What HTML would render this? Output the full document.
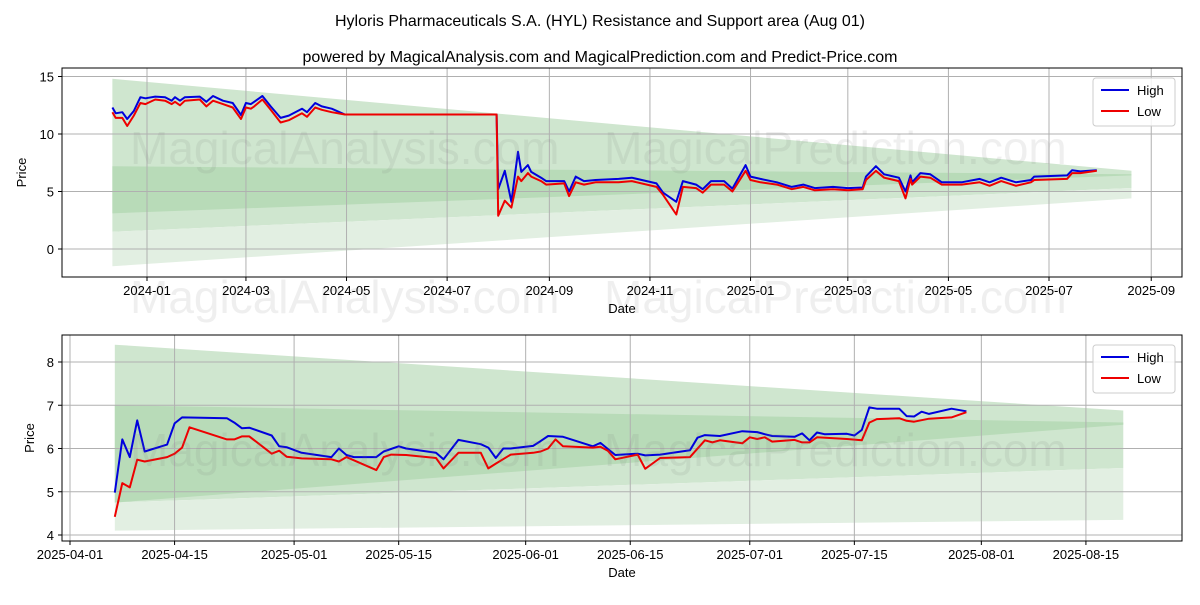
<!DOCTYPE html>
<html><head><meta charset="utf-8">
<style>
body{margin:0;background:#fff;font-family:"Liberation Sans",sans-serif;}
svg text{font-family:"Liberation Sans",sans-serif;}
</style></head>
<body>
<svg id="c" width="1200" height="600" xmlns="http://www.w3.org/2000/svg">
<text x="600" y="26" text-anchor="middle" font-size="16" fill="#000">Hyloris Pharmaceuticals S.A. (HYL) Resistance and Support area (Aug 01)</text>
<text x="600" y="62" text-anchor="middle" font-size="16" fill="#000">powered by MagicalAnalysis.com and MagicalPrediction.com and Predict-Price.com</text>
<text x="130" y="313" font-size="46" fill="rgba(120,120,120,0.12)">MagicalAnalysis.com</text>
<text x="604" y="313" font-size="46" fill="rgba(120,120,120,0.12)">MagicalPrediction.com</text>
</svg>
<script>
// ---------- TOP CHART DATA ----------
const topHighDates=["2023-12-11","2023-12-13","2023-12-17","2023-12-20","2023-12-24","2023-12-28","2023-12-31","2024-01-06","2024-01-12","2024-01-16","2024-01-18","2024-01-21","2024-01-24","2024-02-02","2024-02-06","2024-02-10","2024-02-16","2024-02-22","2024-02-27","2024-03-01","2024-03-04","2024-03-06","2024-03-11","2024-03-16","2024-03-22","2024-03-27","2024-04-04","2024-04-07","2024-04-12","2024-04-16","2024-04-22","2024-04-30","2024-07-31","2024-08-01","2024-08-05","2024-08-09","2024-08-13","2024-08-15","2024-08-19","2024-08-21","2024-08-27","2024-08-30","2024-09-10","2024-09-13","2024-09-17","2024-09-22","2024-09-29","2024-10-13","2024-10-21","2024-11-05","2024-11-09","2024-11-17","2024-11-21","2024-11-29","2024-12-03","2024-12-08","2024-12-16","2024-12-21","2024-12-29","2025-01-01","2025-01-07","2025-01-17","2025-01-26","2025-02-02","2025-02-09","2025-02-20","2025-03-01","2025-03-10","2025-03-12","2025-03-18","2025-03-23","2025-04-01","2025-04-05","2025-04-08","2025-04-09","2025-04-14","2025-04-20","2025-04-27","2025-05-09","2025-05-20","2025-05-26","2025-06-02","2025-06-11","2025-06-20","2025-06-22","2025-07-12","2025-07-15","2025-07-20","2025-07-30"];
const topHighVals=[12.3,11.8,11.9,11.3,12.0,13.2,13.1,13.25,13.2,12.9,13.2,12.9,13.2,13.25,12.8,13.3,12.9,12.7,11.65,12.7,12.6,12.8,13.3,12.4,11.4,11.6,12.2,11.9,12.7,12.4,12.2,11.7,11.7,5.2,6.8,4.1,8.45,6.7,7.3,6.7,6.2,5.9,5.9,5.0,6.3,5.9,6.0,6.1,6.2,5.7,4.9,4.1,5.9,5.6,5.2,5.9,5.9,5.25,7.3,6.3,6.1,5.8,5.4,5.6,5.3,5.4,5.3,5.35,6.3,7.2,6.5,6.2,5.0,6.4,5.8,6.6,6.5,5.8,5.8,6.1,5.8,6.2,5.8,6.0,6.3,6.4,6.85,6.75,6.85];
const topLowVals=[11.9,11.4,11.4,10.7,11.6,12.7,12.6,13.0,12.9,12.6,12.8,12.5,12.9,13.0,12.4,12.9,12.6,12.3,11.3,12.3,12.2,12.4,13.0,12.1,11.0,11.2,11.8,11.5,12.3,12.1,11.9,11.7,11.7,2.9,4.2,3.6,6.3,5.9,6.6,6.3,5.9,5.6,5.7,4.6,5.8,5.6,5.8,5.8,5.9,5.4,4.7,3.0,5.4,5.3,4.9,5.6,5.6,5.0,6.8,6.0,5.8,5.6,5.2,5.4,5.1,5.2,5.1,5.2,6.0,6.8,6.2,5.9,4.4,6.1,5.6,6.3,6.2,5.6,5.6,5.8,5.5,5.9,5.5,5.8,6.0,6.1,6.6,6.6,6.8];
const topBandDates=["2023-12-11","2025-08-20"];
const topOuterTop=[14.8,6.8], topOuterBot=[1.5,5.3];
const topLightTop=[1.5,5.3], topLightBot=[-1.5,4.4];
const topDarkTop=[7.2,6.5], topDarkBot=[3.1,6.4];
const topYTicks=[0,5,10,15];
const topXTicks=["2024-01","2024-03","2024-05","2024-07","2024-09","2024-11","2025-01","2025-03","2025-05","2025-07","2025-09"];

// ---------- BOTTOM CHART DATA ----------
const botHighDates=["2025-04-07","2025-04-08","2025-04-09","2025-04-10","2025-04-11","2025-04-14","2025-04-15","2025-04-16","2025-04-22","2025-04-23","2025-04-24","2025-04-25","2025-04-28","2025-04-29","2025-04-30","2025-05-02","2025-05-06","2025-05-07","2025-05-08","2025-05-09","2025-05-12","2025-05-13","2025-05-15","2025-05-16","2025-05-20","2025-05-21","2025-05-23","2025-05-26","2025-05-27","2025-05-28","2025-05-29","2025-05-30","2025-06-02","2025-06-03","2025-06-04","2025-06-06","2025-06-10","2025-06-11","2025-06-13","2025-06-16","2025-06-17","2025-06-19","2025-06-23","2025-06-24","2025-06-25","2025-06-27","2025-06-30","2025-07-02","2025-07-03","2025-07-04","2025-07-07","2025-07-08","2025-07-09","2025-07-10","2025-07-11","2025-07-14","2025-07-15","2025-07-16","2025-07-17","2025-07-18","2025-07-21","2025-07-22","2025-07-23","2025-07-24","2025-07-25","2025-07-28","2025-07-30"];
const botHighVals=[4.98,6.21,5.8,6.65,5.93,6.09,6.58,6.72,6.7,6.6,6.47,6.48,6.3,6.05,6.03,5.9,5.8,6.0,5.85,5.8,5.8,5.93,6.05,6.0,5.9,5.75,6.2,6.1,6.02,5.78,6.0,6.0,6.06,6.17,6.29,6.27,6.05,6.13,5.85,5.88,5.84,5.86,5.96,6.25,6.31,6.29,6.4,6.38,6.33,6.29,6.27,6.35,6.19,6.37,6.33,6.34,6.3,6.43,6.95,6.92,6.92,6.75,6.74,6.85,6.8,6.92,6.86];
const botLowDates=["2025-04-07","2025-04-08","2025-04-09","2025-04-10","2025-04-11","2025-04-14","2025-04-15","2025-04-16","2025-04-17","2025-04-22","2025-04-23","2025-04-24","2025-04-25","2025-04-28","2025-04-29","2025-04-30","2025-05-02","2025-05-06","2025-05-07","2025-05-08","2025-05-12","2025-05-13","2025-05-14","2025-05-16","2025-05-20","2025-05-21","2025-05-23","2025-05-26","2025-05-27","2025-05-28","2025-05-30","2025-06-02","2025-06-03","2025-06-04","2025-06-05","2025-06-06","2025-06-10","2025-06-11","2025-06-12","2025-06-13","2025-06-16","2025-06-17","2025-06-19","2025-06-23","2025-06-25","2025-06-26","2025-06-27","2025-06-30","2025-07-01","2025-07-02","2025-07-03","2025-07-04","2025-07-07","2025-07-08","2025-07-09","2025-07-10","2025-07-14","2025-07-16","2025-07-17","2025-07-18","2025-07-21","2025-07-22","2025-07-23","2025-07-25","2025-07-28","2025-07-30"];
const botLowVals=[4.42,5.2,5.1,5.74,5.7,5.8,5.88,6.02,6.49,6.21,6.21,6.28,6.28,5.88,5.95,5.81,5.77,5.75,5.7,5.8,5.5,5.8,5.86,5.85,5.78,5.54,5.9,5.9,5.54,5.65,5.86,5.9,5.93,6.0,6.21,6.05,6.02,6.04,5.95,5.75,5.86,5.53,5.78,5.8,6.19,6.14,6.19,6.12,6.26,6.22,6.26,6.16,6.2,6.14,6.14,6.26,6.22,6.19,6.6,6.68,6.7,6.64,6.62,6.69,6.72,6.84];
const botBandDates=["2025-04-07","2025-08-20"];
const botOuterTop=[8.4,6.88], botOuterBot=[4.75,5.55];
const botLightTop=[4.75,5.55], botLightBot=[4.1,4.35];
const botDarkTop=[7.0,6.6], botDarkBot=[4.75,6.55];
const botYTicks=[4,5,6,7,8];
const botXTicks=["2025-04-01","2025-04-15","2025-05-01","2025-05-15","2025-06-01","2025-06-15","2025-07-01","2025-07-15","2025-08-01","2025-08-15"];

const NS="http://www.w3.org/2000/svg";
const svg=document.getElementById('c');
const DAY=86400000;
function dnum(s){const p=s.split('-').map(Number);return Date.UTC(p[0],p[1]-1,p[2]||1)/DAY;}
function mk(tag,attrs,parent){const e=document.createElementNS(NS,tag);for(const k in attrs)e.setAttribute(k,attrs[k]);(parent||svg).appendChild(e);return e;}

function chart(o){
  const g=mk('g',{});
  
  
  const x=d=>o.x0+(dnum(d)-dnum(o.xRef))*o.pxPerDay;
  const y=v=>o.yRefPx-(v-o.yRef)*o.pxPerUnit;
  const clip=mk('clipPath',{id:o.name+'-clip'},g);
  mk('rect',{x:o.L,y:o.T,width:o.W,height:o.H},clip);
  const inner=mk('g',{'clip-path':'url(#'+o.name+'-clip)'},g);
  function band(top,bot,fill,name){
    const d0=o.bandDates[0],d1=o.bandDates[1];
    const p=mk('polygon',{points:`${x(d0)},${y(top[0])} ${x(d1)},${y(top[1])} ${x(d1)},${y(bot[1])} ${x(d0)},${y(bot[0])}`,fill:fill},inner);
    
    
  }
  band(o.outerTop,o.outerBot,'#cfe6cf','resistance-band');
  band(o.lightTop,o.lightBot,'#e2efe2','support-band');
  band(o.darkTop,o.darkBot,'#b8dbb8','core-band');
  o.xTicks.forEach(t=>{const px=x(t);
    const l=mk('line',{x1:px,x2:px,y1:o.T,y2:o.T+o.H,stroke:'#b0b0b0','stroke-width':1},inner);
    
    
    mk('line',{x1:px,x2:px,y1:o.T+o.H,y2:o.T+o.H+4,stroke:'#000'},g);
    const tx=mk('text',{x:px,y:o.T+o.H+18,'text-anchor':'middle','font-size':13},g);tx.textContent=t;
    
    
  });
  o.yTicks.forEach(t=>{const py=y(t);
    const l=mk('line',{x1:o.L,x2:o.L+o.W,y1:py,y2:py,stroke:'#b0b0b0','stroke-width':1},inner);
    
    
    mk('line',{x1:o.L-4,x2:o.L,y1:py,y2:py,stroke:'#000'},g);
    const tx=mk('text',{x:o.L-8,y:py+5,'text-anchor':'end','font-size':13},g);tx.textContent=t;
    
    
  });
  o.wm.forEach(w=>{const t=mk('text',{x:w[0],y:w[1],'font-size':46,fill:'rgba(120,120,120,0.12)'},g);t.textContent=w[2];
    
    });
  function line(dates,vals,color,name){
    const pts=dates.map((d,i)=>x(d).toFixed(1)+','+y(vals[i]).toFixed(1)).join(' ');
    const p=mk('polyline',{points:pts,fill:'none',stroke:color,'stroke-width':2,'stroke-linejoin':'round'},inner);
    
    
  }
  line(o.highDates,o.highVals,'#0000dd','high-line');
  line(o.lowDates,o.lowVals,'#ee0000','low-line');
  const fr=mk('rect',{x:o.L,y:o.T,width:o.W,height:o.H,fill:'none',stroke:'#000','stroke-width':1},g);
  
  
  const xl=mk('text',{x:o.L+o.W/2,y:o.T+o.H+36,'text-anchor':'middle','font-size':13},g);xl.textContent='Date';
  
  
  const yl=mk('text',{x:0,y:0,'text-anchor':'middle','font-size':13,transform:`translate(${o.yLabelX},${o.T+o.H/2}) rotate(-90)`},g);yl.textContent='Price';
  
  
  const lg=mk('g',{},g);
  
  
  const lx=o.L+o.W-89, ly=o.T+10;
  mk('rect',{x:lx,y:ly,width:82,height:48,rx:3,fill:'rgba(255,255,255,0.85)',stroke:'#ccc'},lg);
  [['High','#0000dd'],['Low','#ee0000']].forEach((e,i)=>{
    const ey=ly+12+i*21;
    const ln=mk('line',{x1:lx+8,x2:lx+36,y1:ey,y2:ey,stroke:e[1],'stroke-width':2},lg);
    
    
    const t=mk('text',{x:lx+44,y:ey+5,'font-size':13},lg);t.textContent=e[0];
    
    
  });
}

chart({name:'top-chart',L:62,T:68,W:1120,H:209,x0:147,xRef:'2024-01-01',pxPerDay:1.649,yRef:0,yRefPx:249,pxPerUnit:11.5,
  bandDates:topBandDates,outerTop:topOuterTop,outerBot:topOuterBot,lightTop:topLightTop,lightBot:topLightBot,darkTop:topDarkTop,darkBot:topDarkBot,
  xTicks:topXTicks,yTicks:topYTicks,highDates:topHighDates,highVals:topHighVals,lowDates:topHighDates,lowVals:topLowVals,yLabelX:26,
  wm:[[130,164,'MagicalAnalysis.com'],[604,164,'MagicalPrediction.com']]});
chart({name:'bottom-chart',L:62,T:335,W:1120,H:206,x0:70,xRef:'2025-04-01',pxPerDay:7.47,yRef:4,yRefPx:535,pxPerUnit:43.25,
  bandDates:botBandDates,outerTop:botOuterTop,outerBot:botOuterBot,lightTop:botLightTop,lightBot:botLightBot,darkTop:botDarkTop,darkBot:botDarkBot,
  xTicks:botXTicks,yTicks:botYTicks,highDates:botHighDates,highVals:botHighVals,lowDates:botLowDates,lowVals:botLowVals,yLabelX:34,
  wm:[[130,466,'MagicalAnalysis.com'],[604,466,'MagicalPrediction.com']]});
</script>
</body></html>
